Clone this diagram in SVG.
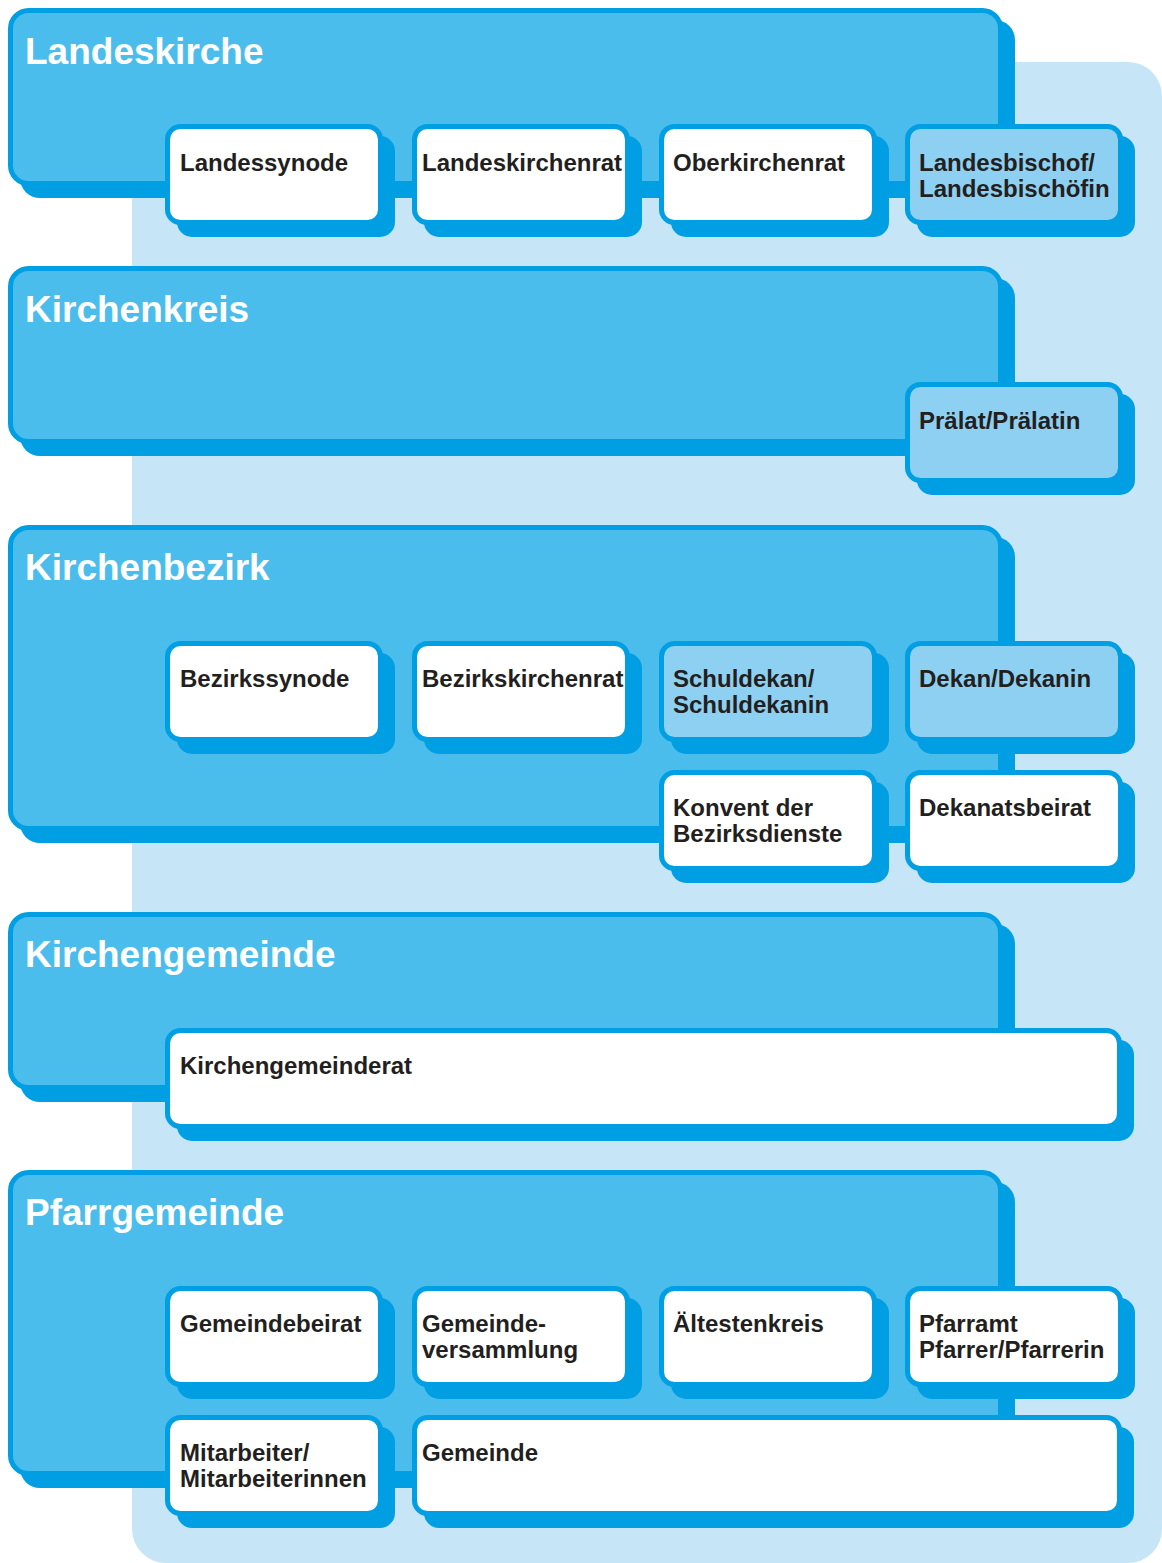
<svg xmlns="http://www.w3.org/2000/svg" width="1162" height="1563" viewBox="0 0 1162 1563">
<style>
.sh{fill:#009FE3}
.big{fill:#4BBDEC;stroke:#009FE3;stroke-width:5}
.w{fill:#FFFFFF;stroke:#009FE3;stroke-width:5}
.hl{fill:#8ED0F1;stroke:#009FE3;stroke-width:5}
.t{font-family:"Liberation Sans",Arial,sans-serif;font-weight:bold;fill:#FFFFFF;font-size:37px}
.l{font-family:"Liberation Sans",Arial,sans-serif;font-weight:bold;fill:#231F20;font-size:24px}
</style>
<rect width="1162" height="1563" fill="#FFFFFF"/>
<rect id="panel" x="132" y="62" width="1030" height="1501" rx="34" fill="#C6E5F6"/>
<g id="connectors"/>

<!-- Landeskirche -->
<g id="landeskirche">
<rect class="sh" x="20" y="20" width="995" height="178" rx="20"/>
<rect class="big" x="10.5" y="10.5" width="990" height="173" rx="18"/>
<text class="t" x="25" y="64">Landeskirche</text>
</g>
<g id="landessynode">
<rect class="sh" x="177" y="136" width="218" height="101" rx="15"/>
<rect class="w" x="167.5" y="126.5" width="213" height="96" rx="13"/>
<text class="l" x="180" y="171">Landessynode</text>
</g>
<g id="landeskirchenrat">
<rect class="sh" x="424" y="136" width="218" height="101" rx="15"/>
<rect class="w" x="414.5" y="126.5" width="213" height="96" rx="13"/>
<text class="l" x="422" y="171">Landeskirchenrat</text>
</g>
<g id="oberkirchenrat">
<rect class="sh" x="671" y="136" width="218" height="101" rx="15"/>
<rect class="w" x="661.5" y="126.5" width="213" height="96" rx="13"/>
<text class="l" x="673" y="171">Oberkirchenrat</text>
</g>
<g id="landesbischof">
<rect class="sh" x="917" y="136" width="218" height="101" rx="15"/>
<rect class="hl" x="907.5" y="126.5" width="213" height="96" rx="13"/>
<text class="l" x="919" y="171">Landesbischof/</text>
<text class="l" x="919" y="197">Landesbischöfin</text>
</g>

<!-- Kirchenkreis -->
<g id="kirchenkreis">
<rect class="sh" x="20" y="278" width="995" height="178" rx="20"/>
<rect class="big" x="10.5" y="268.5" width="990" height="173" rx="18"/>
<text class="t" x="25" y="322">Kirchenkreis</text>
</g>
<g id="praelat">
<rect class="sh" x="917" y="394" width="218" height="101" rx="15"/>
<rect class="hl" x="907.5" y="384.5" width="213" height="96" rx="13"/>
<text class="l" x="919" y="429">Prälat/Prälatin</text>
</g>

<!-- Kirchenbezirk -->
<g id="kirchenbezirk">
<rect class="sh" x="20" y="537" width="995" height="306" rx="20"/>
<rect class="big" x="10.5" y="527.5" width="990" height="301" rx="18"/>
<text class="t" x="25" y="580">Kirchenbezirk</text>
</g>
<g id="bezirkssynode">
<rect class="sh" x="177" y="653" width="218" height="101" rx="15"/>
<rect class="w" x="167.5" y="643.5" width="213" height="96" rx="13"/>
<text class="l" x="180" y="687">Bezirkssynode</text>
</g>
<g id="bezirkskirchenrat">
<rect class="sh" x="424" y="653" width="218" height="101" rx="15"/>
<rect class="w" x="414.5" y="643.5" width="213" height="96" rx="13"/>
<text class="l" x="422" y="687">Bezirkskirchenrat</text>
</g>
<g id="schuldekan">
<rect class="sh" x="671" y="653" width="218" height="101" rx="15"/>
<rect class="hl" x="661.5" y="643.5" width="213" height="96" rx="13"/>
<text class="l" x="673" y="687">Schuldekan/</text>
<text class="l" x="673" y="713">Schuldekanin</text>
</g>
<g id="dekan">
<rect class="sh" x="917" y="653" width="218" height="101" rx="15"/>
<rect class="hl" x="907.5" y="643.5" width="213" height="96" rx="13"/>
<text class="l" x="919" y="687">Dekan/Dekanin</text>
</g>
<g id="konvent">
<rect class="sh" x="671" y="782" width="218" height="101" rx="15"/>
<rect class="w" x="661.5" y="772.5" width="213" height="96" rx="13"/>
<text class="l" x="673" y="816">Konvent der</text>
<text class="l" x="673" y="842">Bezirksdienste</text>
</g>
<g id="dekanatsbeirat">
<rect class="sh" x="917" y="782" width="218" height="101" rx="15"/>
<rect class="w" x="907.5" y="772.5" width="213" height="96" rx="13"/>
<text class="l" x="919" y="816">Dekanatsbeirat</text>
</g>

<!-- Kirchengemeinde -->
<g id="kirchengemeinde">
<rect class="sh" x="20" y="924" width="995" height="178" rx="20"/>
<rect class="big" x="10.5" y="914.5" width="990" height="173" rx="18"/>
<text class="t" x="25" y="967">Kirchengemeinde</text>
</g>
<g id="kirchengemeinderat">
<rect class="sh" x="177" y="1040" width="957" height="101" rx="15"/>
<rect class="w" x="167.5" y="1030.5" width="952" height="96" rx="13"/>
<text class="l" x="180" y="1074">Kirchengemeinderat</text>
</g>

<!-- Pfarrgemeinde -->
<g id="pfarrgemeinde">
<rect class="sh" x="20" y="1182" width="995" height="306" rx="20"/>
<rect class="big" x="10.5" y="1172.5" width="990" height="301" rx="18"/>
<text class="t" x="25" y="1225">Pfarrgemeinde</text>
</g>
<g id="gemeindebeirat">
<rect class="sh" x="177" y="1298" width="218" height="101" rx="15"/>
<rect class="w" x="167.5" y="1288.5" width="213" height="96" rx="13"/>
<text class="l" x="180" y="1332">Gemeindebeirat</text>
</g>
<g id="gemeindeversammlung">
<rect class="sh" x="424" y="1298" width="218" height="101" rx="15"/>
<rect class="w" x="414.5" y="1288.5" width="213" height="96" rx="13"/>
<text class="l" x="422" y="1332">Gemeinde-</text>
<text class="l" x="422" y="1358">versammlung</text>
</g>
<g id="aeltestenkreis">
<rect class="sh" x="671" y="1298" width="218" height="101" rx="15"/>
<rect class="w" x="661.5" y="1288.5" width="213" height="96" rx="13"/>
<text class="l" x="673" y="1332">Ältestenkreis</text>
</g>
<g id="pfarramt">
<rect class="sh" x="917" y="1298" width="218" height="101" rx="15"/>
<rect class="w" x="907.5" y="1288.5" width="213" height="96" rx="13"/>
<text class="l" x="919" y="1332">Pfarramt</text>
<text class="l" x="919" y="1358">Pfarrer/Pfarrerin</text>
</g>
<g id="mitarbeiter">
<rect class="sh" x="177" y="1427" width="218" height="101" rx="15"/>
<rect class="w" x="167.5" y="1417.5" width="213" height="96" rx="13"/>
<text class="l" x="180" y="1461">Mitarbeiter/</text>
<text class="l" x="180" y="1487">Mitarbeiterinnen</text>
</g>
<g id="gemeinde">
<rect class="sh" x="424" y="1427" width="710" height="101" rx="15"/>
<rect class="w" x="414.5" y="1417.5" width="705" height="96" rx="13"/>
<text class="l" x="422" y="1461">Gemeinde</text>
</g>
</svg>
